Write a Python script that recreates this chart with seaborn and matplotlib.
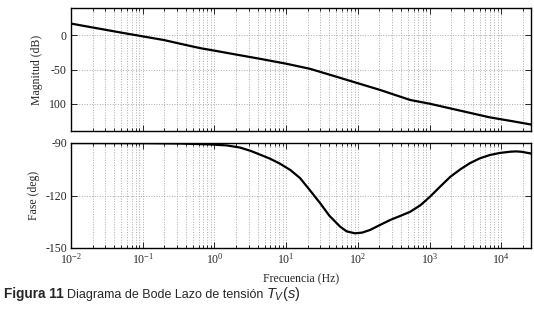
import numpy as np
import pandas as pd
import matplotlib
matplotlib.use("Agg")
import matplotlib.pyplot as plt
import matplotlib.ticker as mticker
import seaborn as sns

# Bode data (frequency in Hz)
mag_freq = [0.01, 0.02, 0.05, 0.1, 0.2, 0.33, 0.63, 1.0, 2.0, 4.3, 10.0, 21.5, 50.0, 107.0,
            204.0, 537.0, 1000.0, 2700.0, 6900.0, 14000.0, 26000.0]
mag_db = [17.2, 11.5, 4.0, -1.5, -7.0, -12.2, -18.7, -22.4, -28.1, -34.3, -41.5, -49.0,
          -60.5, -71.0, -79.9, -94.6, -100.0, -110.3, -120.0, -125.5, -130.5]

ph_freq = [0.01, 0.1, 0.33, 0.87, 1.5, 2.27, 3.2, 4.3, 6.0, 8.2, 11.5, 15.6, 21.0, 29.7,
           40.0, 56.6, 70.0, 91.0, 115.0, 148.0, 200.0, 282.0, 400.0, 537.0, 750.0, 1020.0,
           1400.0, 1950.0, 2700.0, 3630.0, 5000.0, 6900.0, 9500.0, 13200.0, 16000.0,
           19000.0, 26000.0]
ph_deg = [-90.0, -90.1, -90.3, -90.8, -91.4, -92.6, -94.5, -96.6, -99.0, -101.8, -105.5,
          -110.0, -116.5, -124.3, -131.5, -137.8, -140.5, -141.6, -141.2, -139.7, -137.0,
          -134.0, -131.5, -129.3, -125.5, -120.6, -115.0, -109.3, -105.0, -101.6, -98.8,
          -96.9, -95.7, -95.0, -94.8, -95.0, -96.0]

mag_ticks = [0, -50, -100]
mag_ticklabels = ["0", "-50", "100"]
ph_ticks = [-90, -120, -150]
ph_ticklabels = ["-90", "-120", "-150"]
freq_ticks = [0.01, 0.1, 1, 10, 100, 1000, 10000]

sns.set_style("ticks")
plt.rcParams["font.family"] = ["Liberation Serif", "DejaVu Serif"]
plt.rcParams["mathtext.fontset"] = "custom"
plt.rcParams["mathtext.rm"] = "Liberation Sans"
plt.rcParams["mathtext.it"] = "Liberation Sans:italic"

fig = plt.figure(figsize=(5.34, 3.15), dpi=100)
ax1 = fig.add_axes([71 / 534, 1 - 131 / 315, 460 / 534, 123 / 315])
ax2 = fig.add_axes([71 / 534, 1 - 248 / 315, 460 / 534, 105 / 315])

df_mag = pd.DataFrame({"f": mag_freq, "v": mag_db})
df_ph = pd.DataFrame({"f": ph_freq, "v": ph_deg})
sns.lineplot(data=df_mag, x="f", y="v", ax=ax1, color="black", lw=1.6, sort=True)
sns.lineplot(data=df_ph, x="f", y="v", ax=ax2, color="black", lw=1.6, sort=True)

for ax in (ax1, ax2):
    ax.set_xscale("log")
    ax.set_xlim(0.01, 26000)
    ax.xaxis.set_major_locator(mticker.FixedLocator(freq_ticks))
    ax.xaxis.set_major_formatter(mticker.LogFormatterSciNotation())
    ax.xaxis.set_minor_locator(mticker.LogLocator(base=10, subs=np.arange(2, 10), numticks=12))
    ax.xaxis.set_minor_formatter(mticker.NullFormatter())
    ax.grid(True, which="major", axis="both", color="#aaaaaa", linestyle=":", lw=0.7)
    ax.grid(True, which="minor", axis="x", color="#aaaaaa", linestyle=":", lw=0.7)
    ax.tick_params(which="both", direction="in", top=True, right=True, labelsize=8.5,
                   pad=3, width=0.7)
    ax.tick_params(which="major", length=4)
    ax.tick_params(which="minor", length=2.5)
    for s in ax.spines.values():
        s.set_linewidth(1.0)
        s.set_color("black")
    ax.set_xlabel("")
    ax.set_ylabel("")

ax1.set_ylim(-140, 40)
ax1.set_yticks(mag_ticks)
ax1.set_yticklabels(mag_ticklabels)
ax1.tick_params(axis="x", labelbottom=False)
ax1.set_ylabel("Magnitud (dB)", fontsize=8.5, labelpad=4)

ax2.set_ylim(-150, -90)
ax2.set_yticks(ph_ticks)
ax2.set_yticklabels(ph_ticklabels)
ax2.set_ylabel("Fase (deg)", fontsize=8.5, labelpad=4)
ax2.set_xlabel("Frecuencia (Hz)", fontsize=8.5, labelpad=5)

fig.align_ylabels([ax1, ax2])

# caption in sans-serif: bold part, normal part, italic part
cap_y = 1 - 298 / 315
t1 = fig.text(4 / 534, cap_y, "Figura 11", family="Liberation Sans", weight="bold", fontsize=9.8)
fig.canvas.draw()
r = fig.canvas.get_renderer()
x2 = t1.get_window_extent(r).x1 / fig.bbox.width + 3 / 534
t2 = fig.text(x2, cap_y, "Diagrama de Bode Lazo de tensión", family="Liberation Sans", fontsize=9)
fig.canvas.draw()
x3 = t2.get_window_extent(r).x1 / fig.bbox.width + 3 / 534
fig.text(x3, cap_y, r"$\mathit{T_V(s)}$", fontsize=10.5)

fig.savefig("out.png", dpi=100)
